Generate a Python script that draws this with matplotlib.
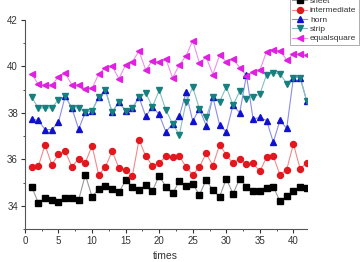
import matplotlib.pyplot as plt
from matplotlib.ticker import MultipleLocator

plt.rcParams['font.family'] = ['Liberation Sans', 'DejaVu Sans']

times = list(range(1, 43))
sheet = [34.82, 34.13, 34.33, 34.23, 34.18, 34.33, 34.33, 34.25, 35.33, 34.39,
         34.72, 34.86, 34.72, 34.58, 35.09, 34.82, 34.66, 34.91, 34.65, 35.29,
         34.82, 34.53, 35.06, 34.86, 34.95, 34.46, 35.13, 34.66, 34.39, 35.16,
         34.52, 35.16, 34.82, 34.62, 34.62, 34.75, 34.82, 34.19, 34.42, 34.62,
         34.82, 34.78]
intermediate = [35.65, 35.70, 36.62, 35.76, 36.21, 36.35, 35.68, 36.02, 35.85, 36.59,
                35.32, 35.68, 36.35, 35.62, 35.56, 35.27, 36.84, 36.13, 35.73, 35.83,
                36.13, 36.09, 36.13, 35.68, 35.33, 35.68, 36.25, 35.73, 36.62, 36.19,
                35.82, 36.02, 35.78, 35.82, 35.48, 36.09, 36.13, 35.33, 35.56, 36.66,
                35.59, 35.86]
horn = [37.72, 37.68, 37.28, 37.28, 37.60, 38.71, 38.21, 37.30, 38.02, 38.09,
        38.68, 38.97, 38.02, 38.47, 38.08, 38.20, 38.67, 37.85, 38.26, 37.93,
        37.18, 37.53, 37.85, 38.88, 37.64, 38.17, 37.45, 38.68, 37.48, 37.18,
        38.33, 38.00, 39.62, 37.73, 37.80, 37.67, 36.74, 37.68, 37.33, 39.52,
        39.52, 38.49]
strip = [38.67, 38.21, 38.20, 38.21, 38.57, 38.71, 38.21, 38.21, 38.02, 38.09,
         38.68, 38.97, 38.02, 38.47, 38.08, 38.20, 38.67, 38.85, 38.26, 38.97,
         38.12, 37.53, 37.06, 38.45, 39.10, 38.17, 37.80, 38.68, 38.47, 39.12,
         38.33, 38.93, 38.60, 38.69, 38.80, 39.65, 39.71, 39.68, 39.26, 39.52,
         39.52, 38.49]
equalsquare = [39.68, 39.22, 39.18, 39.21, 39.54, 39.71, 39.20, 39.21, 39.03, 39.05,
               39.68, 39.95, 40.01, 39.47, 40.06, 40.20, 40.66, 39.84, 40.25, 40.18,
               40.31, 39.51, 40.06, 40.45, 41.11, 40.14, 40.40, 39.65, 40.48, 40.20,
               40.31, 39.95, 39.60, 39.74, 39.83, 40.64, 40.71, 40.67, 40.28, 40.53,
               40.53, 40.48]

series = [
    ("sheet", sheet, "s", "#000000", "#9a9a9a"),
    ("intermediate", intermediate, "o", "#e3171d", "#f08a8e"),
    ("horn", horn, "^", "#1010d0", "#8c8ce8"),
    ("strip", strip, "v", "#168080", "#86c0c0"),
    ("equalsquare", equalsquare, "<", "#e020e0", "#ee90ee"),
]

fig = plt.figure(figsize=(3.61, 2.62), dpi=100)
ax = fig.add_axes([0.069, 0.126, 0.781, 0.798])

for name, vals, mk, col, lcol in series:
    ax.plot(times, vals, color=lcol, lw=0.8, zorder=1)
    ax.plot(times, vals, ls="none", marker=mk, ms=4.3, color=col, mec=col,
            zorder=2)
    # legend proxy
    ax.plot([], [], color=lcol, lw=0.8, marker=mk, ms=4.3, mfc=col, mec=col,
            label=name)

ax.set_xlim(0, 42)
ax.set_ylim(33, 42)
ax.xaxis.set_major_locator(MultipleLocator(5))
ax.xaxis.set_minor_locator(MultipleLocator(2.5))
ax.yaxis.set_major_locator(MultipleLocator(2))
ax.yaxis.set_minor_locator(MultipleLocator(1))
ax.tick_params(which="major", direction="out", length=3, width=0.8,
               labelsize=7, colors="#333333", pad=2)
ax.tick_params(which="minor", direction="out", length=1.5, width=0.6,
               colors="#333333")
for s in ["top", "right"]:
    ax.spines[s].set_visible(False)
for s in ["left", "bottom"]:
    ax.spines[s].set_color("#555555")
    ax.spines[s].set_linewidth(0.8)

ax.set_xlabel("times", fontsize=7.5, color="#333333", labelpad=4)
ax.set_ylabel("degree", fontsize=7.5, color="#333333", labelpad=6)

leg = ax.legend(loc="upper left", bbox_to_anchor=(0.802, 1.02),
                bbox_transform=fig.transFigure, fontsize=6, frameon=True,
                fancybox=False, edgecolor="#888888", handlelength=1.8,
                labelspacing=0.18, borderpad=0.3, handletextpad=0.35,
                borderaxespad=0)
leg.get_frame().set_linewidth(0.6)
for t in leg.get_texts():
    t.set_color("#333333")

fig.savefig("out.png", dpi=100)
